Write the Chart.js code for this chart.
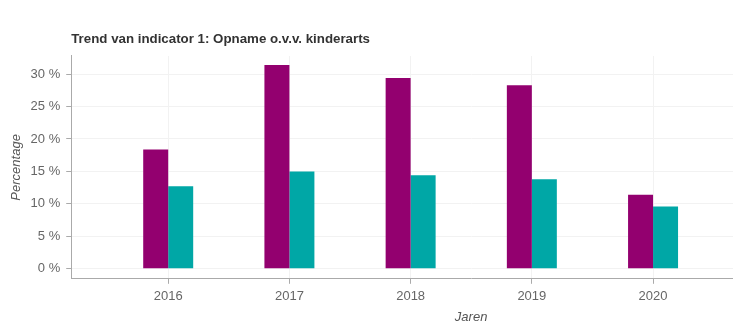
<!DOCTYPE html>
<html>
<head>
<meta charset="utf-8">
<script src="https://cdn.jsdelivr.net/npm/chart.js@4/dist/chart.umd.min.js"></script>
<style>
  html, body { margin: 0; padding: 0; overflow: hidden; background: #fff; }
  #chart { display: block; }
</style>
</head>
<body>
<canvas id="chart" width="900" height="325"></canvas>
<script>
(function () {
  'use strict';

  const years = [2016, 2017, 2018, 2019, 2020];
  const seriesA = [18.4, 31.4, 29.4, 28.3, 11.4];
  const seriesB = [12.7, 15.0, 14.4, 13.8, 9.6];
  const yTicks = [0, 5, 10, 15, 20, 25, 30];

  const pairs = (vals) => years.map((x, i) => ({ x: x, y: vals[i] }));
  const font = 'Liberation Sans, Arial, sans-serif';

  new Chart(document.getElementById('chart').getContext('2d'), {
    type: 'bar',
    data: {
      datasets: [
        { label: 'A', data: pairs(seriesA), backgroundColor: '#93006f', borderWidth: 0 },
        { label: 'B', data: pairs(seriesB), backgroundColor: '#00a7a6', borderWidth: 0 },
      ],
    },
    options: {
      responsive: false,
      animation: false,
      categoryPercentage: 0.4124,
      barPercentage: 1,
      layout: { padding: { top: 31, left: 5, right: 29, bottom: 0 } },
      plugins: {
        legend: { display: false },
        tooltip: { enabled: false },
        title: {
          display: true,
          text: 'Trend van indicator 1: Opname o.v.v. kinderarts',
          align: 'start',
          fullSize: false,
          color: '#333',
          font: { family: font, size: 13.3, weight: 'bold' },
          padding: { top: 0, bottom: 9 },
        },
      },
      scales: {
        x: {
          type: 'linear',
          offset: false,
          min: 2015.2,
          max: 2021.798,
          afterBuildTicks: (scale) => { scale.ticks = years.map((v) => ({ value: v })); },
          ticks: {
            callback: (v) => String(v),
            color: '#666',
            padding: 5,
            font: { family: font, size: 13 },
          },
          grid: { offset: false, color: '#f2f2f2', tickColor: '#aaa', tickLength: 5 },
          border: { color: '#aaa' },
          title: {
            display: true,
            text: 'Jaren',
            color: '#555',
            padding: { top: 0, bottom: 0 },
            font: { family: font, size: 13, style: 'italic' },
          },
        },
        y: {
          min: -1.55,
          max: 32.8,
          afterBuildTicks: (scale) => { scale.ticks = yTicks.map((v) => ({ value: v })); },
          ticks: {
            callback: (v) => v + ' %',
            color: '#666',
            padding: 6,
            font: { family: font, size: 13 },
          },
          grid: { color: '#f2f2f2', tickColor: '#aaa', tickLength: 5 },
          border: { color: '#aaa' },
          title: {
            display: true,
            text: 'Percentage',
            color: '#555',
            padding: { top: 4, bottom: 0 },
            font: { family: font, size: 13, style: 'italic' },
          },
        },
      },
    },
  });
})();
</script>
</body>
</html>
